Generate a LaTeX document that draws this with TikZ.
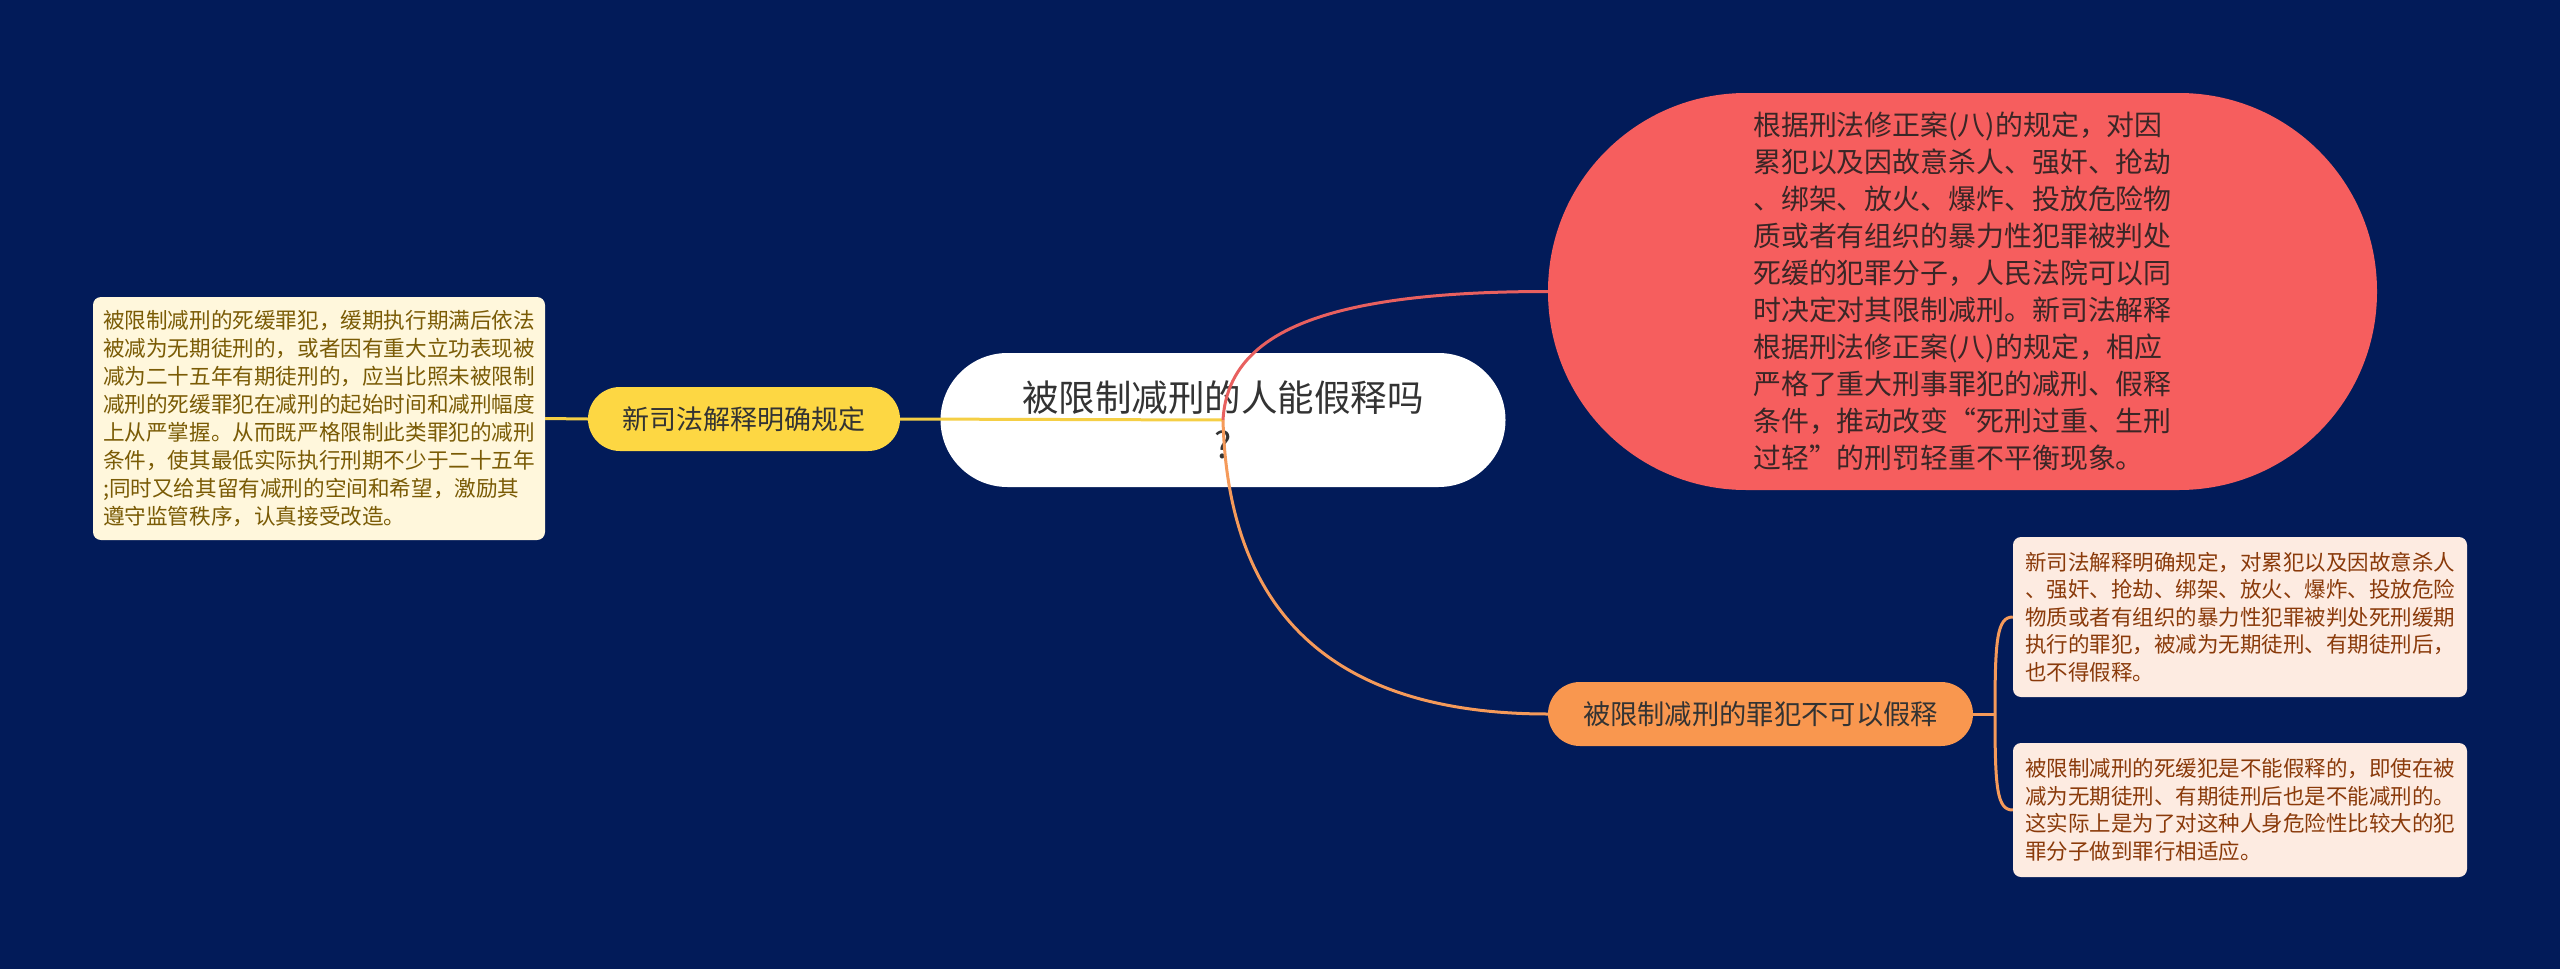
\documentclass[tikz,border=0pt]{standalone}
\usepackage{fontspec}
\newfontfamily\cjk{Noto Sans CJK SC}
\definecolor{bg}{HTML}{021B59}
\definecolor{yellowc}{HTML}{FDD743}
\definecolor{yline}{HTML}{F5CF45}
\definecolor{redc}{HTML}{F65E5E}
\definecolor{rline}{HTML}{E8605F}
\definecolor{orangec}{HTML}{F9974F}
\definecolor{oline}{HTML}{F59A5A}
\definecolor{cream}{HTML}{FFF7DC}
\definecolor{creamtxt}{HTML}{7A5B05}
\definecolor{peach}{HTML}{FDEBE1}
\definecolor{peachtxt}{HTML}{8A3A0A}
\definecolor{darktxt}{HTML}{333333}
\definecolor{redtxt}{HTML}{3A2626}
\tikzset{
  mainnode/.style={fill=white, rounded corners=67pt, minimum width=565pt, minimum height=134pt,
    inner sep=0pt, align=center, text=darktxt, font=\cjk\fontsize{36.5}{47}\selectfont},
  rednode/.style={fill=redc, rounded corners=198pt, minimum width=829pt, minimum height=397pt,
    inner sep=0pt, align=left, text=redtxt, font=\cjk\fontsize{27.9}{37}\selectfont},
  yellownode/.style={fill=yellowc, rounded corners=32pt, minimum width=312pt, minimum height=64pt,
    inner sep=0pt, align=center, text=darktxt, font=\cjk\fontsize{27}{32}\selectfont},
  orangenode/.style={fill=orangec, rounded corners=32pt, minimum width=425pt, minimum height=64pt,
    inner sep=0pt, align=center, text=darktxt, font=\cjk\fontsize{27.3}{32}\selectfont},
  creambox/.style={fill=cream, rounded corners=8pt, minimum width=452pt, minimum height=243pt,
    inner sep=0pt, align=left, text=creamtxt, font=\cjk\fontsize{21.6}{28}\selectfont},
  peachbox/.style={fill=peach, rounded corners=8pt, minimum width=454pt,
    inner sep=0pt, align=left, text=peachtxt, font=\cjk\fontsize{21.5}{27.5}\selectfont},
  yedge/.style={draw=yline, line width=3pt},
  redge/.style={draw=rline, line width=3pt},
  oedge/.style={draw=oline, line width=3pt},
}
\begin{document}
\begin{tikzpicture}[x=1pt,y=-1pt]
\fill[bg] (0,0) rectangle (2560,969);
\useasboundingbox (0,0) rectangle (2560,969);

\node[mainnode] (c) at (1223,420) {被限制减刑的人能假释吗\\?};
\node[rednode] (r) at (1962.5,291.5) {根据刑法修正案(八)的规定，对因\\累犯以及因故意杀人、强奸、抢劫\\、绑架、放火、爆炸、投放危险物\\质或者有组织的暴力性犯罪被判处\\死缓的犯罪分子，人民法院可以同\\时决定对其限制减刑。新司法解释\\根据刑法修正案(八)的规定，相应\\严格了重大刑事罪犯的减刑、假释\\条件，推动改变“死刑过重、生刑\\过轻”的刑罚轻重不平衡现象。};
\node[yellownode] (y) at (744,419) {新司法解释明确规定};
\node[creambox] (lb) at (319,418.5) {被限制减刑的死缓罪犯，缓期执行期满后依法\\被减为无期徒刑的，或者因有重大立功表现被\\减为二十五年有期徒刑的，应当比照未被限制\\减刑的死缓罪犯在减刑的起始时间和减刑幅度\\上从严掌握。从而既严格限制此类罪犯的减刑\\条件，使其最低实际执行刑期不少于二十五年\\;同时又给其留有减刑的空间和希望，激励其\\遵守监管秩序，认真接受改造。};
\node[orangenode] (o) at (1760.5,714) {被限制减刑的罪犯不可以假释};
\node[peachbox, minimum height=160pt] (t) at (2240,617) {新司法解释明确规定，对累犯以及因故意杀人\\、强奸、抢劫、绑架、放火、爆炸、投放危险\\物质或者有组织的暴力性犯罪被判处死刑缓期\\执行的罪犯，被减为无期徒刑、有期徒刑后，\\也不得假释。};
\node[peachbox, minimum height=134pt] (b) at (2240,810) {被限制减刑的死缓犯是不能假释的，即使在被\\减为无期徒刑、有期徒刑后也是不能减刑的。\\这实际上是为了对这种人身危险性比较大的犯\\罪分子做到罪行相适应。};

\coordinate (k) at (1995,714);

\draw[yedge] (lb.east) -- (y.west);
\draw[yedge] (y.east) -- (c.center);
\draw[redge] (c.center) .. controls +(5,-90) and +(-218,0) .. (r.west);
\draw[oedge] (c.center) .. controls +(5,190) and +(-218,0) .. (o.west);
\draw[oedge] (o.east) -- (k);
\draw[oedge] (k) .. controls +(0,-74) and +(-16,0) .. (t.west);
\draw[oedge] (k) .. controls +(0,74) and +(-16,0) .. (b.west);
\end{tikzpicture}
\end{document}
